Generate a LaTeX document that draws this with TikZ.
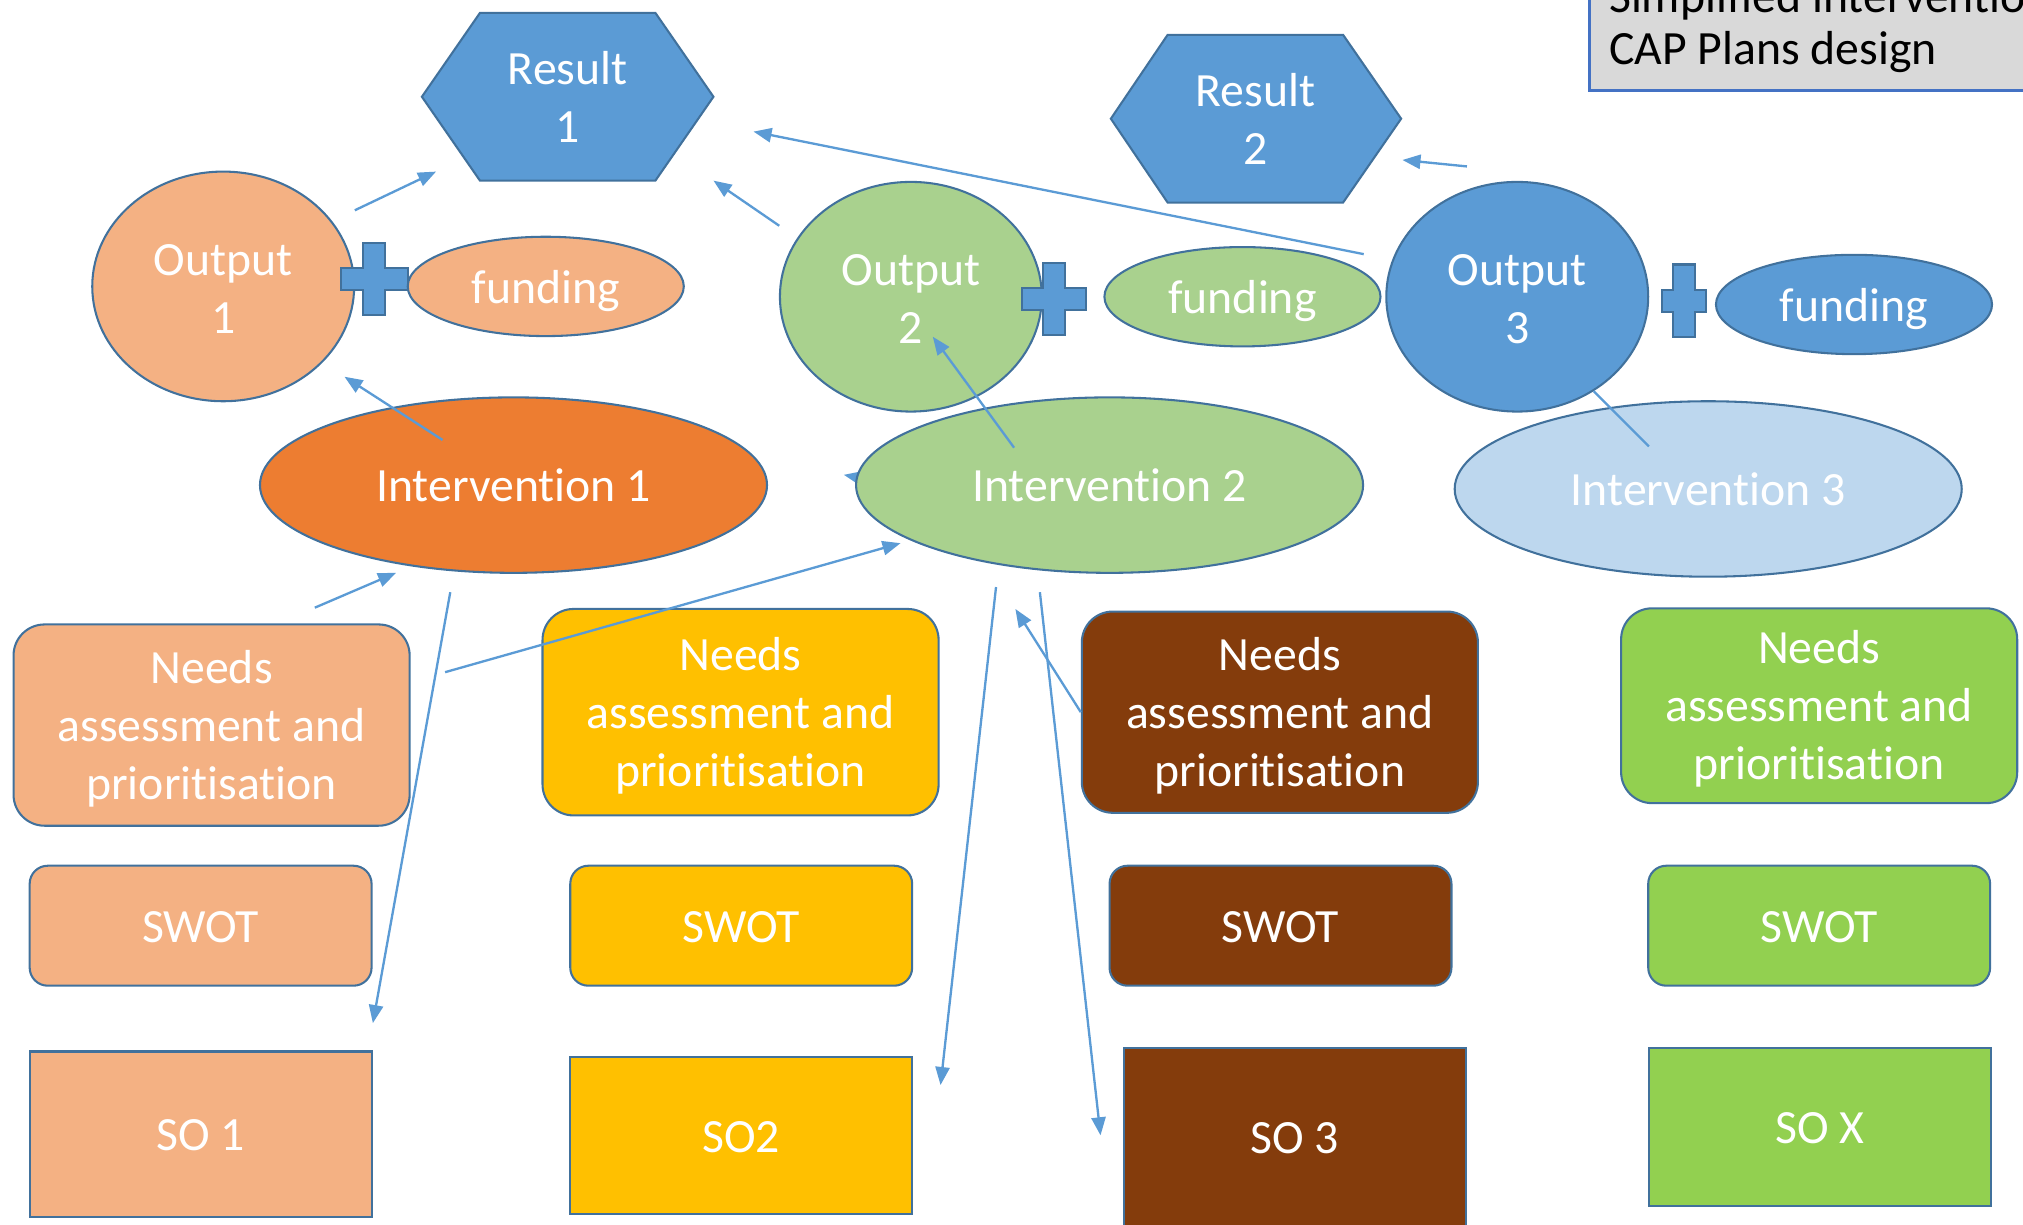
\documentclass[tikz,border=0pt]{standalone}
\usepackage{fontspec}
\setmainfont{Carlito}[Ligatures=NoCommon]
\usetikzlibrary{shapes.geometric,arrows.meta}

\definecolor{edge}{HTML}{41719C}
\definecolor{blueF}{HTML}{5B9BD5}
\definecolor{peach}{HTML}{F4B183}
\definecolor{orangeF}{HTML}{ED7D31}
\definecolor{lgreen}{HTML}{A9D18E}
\definecolor{lblue}{HTML}{BDD7EE}
\definecolor{yellowF}{HTML}{FFC000}
\definecolor{brownF}{HTML}{843C0C}
\definecolor{greenF}{HTML}{92D050}
\definecolor{titlegray}{HTML}{D9D9D9}
\definecolor{titleblue}{HTML}{4472C4}

\begin{document}
\begin{tikzpicture}[x=1pt,y=-1pt,
  every node/.style={font=\fontsize{37}{45}\selectfont, text=white, align=center, inner sep=0pt},
  shp/.style={draw=edge, line width=1.6pt},
  oneline/.style={shp, execute at begin node={\rule{0pt}{35pt}}, execute at end node={\rule[-9pt]{0pt}{9pt}}},
  outbub/.style={shp, ellipse, minimum width=203pt, minimum height=178pt, text height=73pt, text depth=0pt},
  fundbub/.style={oneline, ellipse, minimum width=214pt, minimum height=77pt},
  intbub/.style={oneline, ellipse, minimum width=393pt, minimum height=136pt},
  needbox/.style={shp, rounded corners=24pt, minimum width=307pt, minimum height=156pt, text height=123pt, text depth=8pt},
  swotbox/.style={oneline, rounded corners=14pt, minimum width=265pt, minimum height=93pt},
  sobox/.style={oneline, minimum width=265pt, minimum height=128pt},
  arr/.style={draw=blueF, line width=1.8pt, -{Triangle[length=14pt,width=11pt]}}]
  \useasboundingbox (0,0) rectangle (1568,949);
  \clip (0,0) rectangle (1568,949);

  % title
  \draw[fill=titlegray, draw=titleblue, line width=2pt] (1232,-20) rectangle (1600,70);
  \node[text=black, anchor=base west] (ttl1) at (1247,10) {Simplified intervention};
  \node[text=black, anchor=base west] (ttl2) at (1247,50) {CAP Plans design};

  % results
  \path[shp, fill=blueF] (327,75) -- (372,10) -- (508,10) -- (553,75) -- (508,140) -- (372,140) -- cycle;
  \node (res1) at (440,75) {Result\\1};
  \path[shp, fill=blueF] (861,92) -- (905,27) -- (1041,27) -- (1086,92) -- (1041,157) -- (905,157) -- cycle;
  \node (res2) at (973,92) {Result\\2};

  % outputs + funding
  \node[outbub, fill=peach] (o1) at (173,222) {Output\\1};
  \node[outbub, fill=lgreen] (o2) at (706,230) {Output\\2};
  \node[outbub, fill=blueF] (o3) at (1176,230) {Output\\3};
  \foreach \cx/\cy/\w in {290/216/26, 817/232/25, 1305/233/17}
    \draw[shp, fill=blueF] (\cx-8.5,\cy-28) -- ++(17,0) -- ++(0,19.5) -- ++(\w-8.5,0) -- ++(0,17)
      -- ++(-\w+8.5,0) -- ++(0,19.5) -- ++(-17,0) -- ++(0,-19.5) -- ++(-\w+8.5,0) -- ++(0,-17)
      -- ++(\w-8.5,0) -- cycle;
  \node[fundbub, fill=peach] (f1) at (423,222) {funding};
  \node[fundbub, fill=lgreen] (f2) at (963,230) {funding};
  \node[fundbub, fill=blueF] (f3) at (1437,236) {funding};

  % this one sits under intervention 2
  \coordinate (hx1) at (674,372);
  \coordinate (hx2) at (654,368);
  \draw[arr] (hx1) -- (hx2);

  % interventions
  \node[intbub, fill=orangeF] (i1) at (398,376) {Intervention 1};
  \node[intbub, fill=lgreen] (i2) at (860,376) {Intervention 2};
  \node[intbub, fill=lblue] (i3) at (1324,379) {Intervention 3};

  % needs, swot, so
  \node[needbox, fill=peach] (n1) at (164,562) {Needs\\assessment and\\prioritisation};
  \node[needbox, fill=yellowF, minimum height=160pt] (n2) at (574,552) {Needs\\assessment and\\prioritisation};
  \node[needbox, fill=brownF] (n3) at (992,552) {Needs\\assessment and\\prioritisation};
  \node[needbox, fill=greenF, minimum height=151pt] (n4) at (1410,547) {Needs\\assessment and\\prioritisation};

  \node[swotbox, fill=peach] (s1) at (155.5,717.5) {SWOT};
  \node[swotbox, fill=yellowF] (s2) at (574.5,717.5) {SWOT};
  \node[swotbox, fill=brownF] (s3) at (992.5,717.5) {SWOT};
  \node[swotbox, fill=greenF] (s4) at (1410,717.5) {SWOT};

  \node[sobox, fill=peach] (so1) at (155.5,879) {SO 1};
  \node[sobox, fill=yellowF, minimum height=122pt] (so2) at (574.5,880) {SO2};
  \node[sobox, fill=brownF, minimum height=138pt] (so3) at (1003.5,881) {SO 3};
  \node[sobox, fill=greenF, minimum height=123pt] (so4) at (1410.5,873.5) {SO X};

  % arrow ends
  \coordinate (o1r1s) at (275,163);  \coordinate (o1r1e) at (338,133);
  \coordinate (o2r1s) at (604,175);  \coordinate (o2r1e) at (553,140);
  \coordinate (o3r1s) at (1057,197); \coordinate (o3r1e) at (584,102);
  \coordinate (o3r2s) at (1137,129); \coordinate (o3r2e) at (1087,124);
  \coordinate (i1o1s) at (343,341);  \coordinate (i1o1e) at (267,292);
  \coordinate (i2o2s) at (786,347);  \coordinate (i2o2e) at (723,261);
  \coordinate (n1i1s) at (244,471);  \coordinate (n1i1e) at (307,444);
  \coordinate (n1i2s) at (345,521);  \coordinate (n1i2e) at (698,421);
  \coordinate (i1s1s) at (349,459);  \coordinate (i1s1e) at (289,793);
  \coordinate (i2s2s) at (772,455);  \coordinate (i2s2e) at (729,841);
  \coordinate (n3i2e) at (787,472);
  \coordinate (i2s3s) at (806,459);  \coordinate (i2s3e) at (853,880);
  \coordinate (o3i3e) at (1278,346);

  \foreach \s/\e in {o1r1s/o1r1e, o2r1s/o2r1e, o3r1s/o3r1e, o3r2s/o3r2e, i1o1s/i1o1e, i2o2s/i2o2e,
      n1i1s/n1i1e, n1i2s/n1i2e, i1s1s/i1s1e, i2s2s/i2s2e, n3.west/n3i2e, i2s3s/i2s3e}
    \draw[arr] (\s) -- (\e);
  \draw[draw=blueF, line width=1.8pt] (o3.309) -- (o3i3e);
\end{tikzpicture}
\end{document}
